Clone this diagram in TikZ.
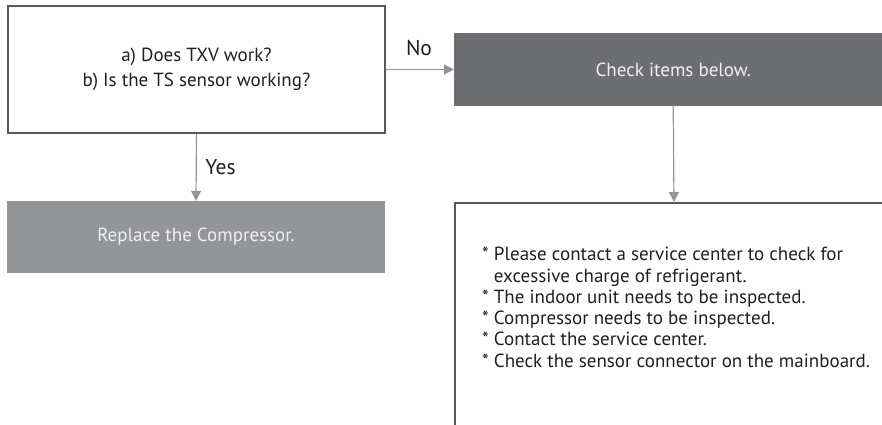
\documentclass[tikz,border=0pt]{standalone}
\usepackage{fontspec}
\setmainfont{PT Sans}
\usetikzlibrary{arrows.meta}
\definecolor{borderc}{HTML}{58595B}
\definecolor{linec}{HTML}{939598}
\definecolor{lightfill}{HTML}{939598}
\definecolor{darkfill}{HTML}{6D6E71}
\definecolor{txt}{HTML}{231F20}
\tikzset{
  qbox/.style={draw=borderc, line width=2pt, fill=white, minimum width=377pt, minimum height=127pt, inner sep=0pt, align=center, text=txt, font=\fontsize{19}{25}\selectfont},
  greybox/.style={fill=lightfill, minimum width=378pt, minimum height=72pt, inner sep=0pt, text=white!94!black, font=\fontsize{19}{22}\selectfont},
  darkbox/.style={fill=darkfill, minimum width=438pt, minimum height=73pt, inner sep=0pt, text=white!94!black, font=\fontsize{19}{22}\selectfont},
  listbox/.style={draw=borderc, line width=2pt, fill=white, minimum width=438pt, minimum height=260pt, inner sep=0pt},
  listtext/.style={align=left, inner sep=0pt, text=txt, font=\fontsize{19}{21.3}\selectfont},
  lbl/.style={inner sep=0pt, text=txt, font=\fontsize{21.5}{24}\selectfont},
  conn/.style={draw=linec, line width=1.2pt, -{Triangle[length=10pt,width=10pt]}}
}
\begin{document}
\begin{tikzpicture}[x=1pt,y=-1pt]
\useasboundingbox (0,0) rectangle (882,424);
\clip (0,0) rectangle (882,424);
\node[qbox] (q) at (196.5,69.5) {\raisebox{-2pt}{\parbox{300pt}{\centering a) Does TXV work?\\b) Is the TS sensor working?}}};
\node[greybox] (rep) at (196,237) {Replace the Compressor.};
\node[darkbox, anchor=north west] (chk) at (454,33) {Check items below.};
\node[listbox, anchor=north west] (items) at (454,202) {};
\node[listtext, anchor=north west] (itemtext) at (482,247) {* Please contact a service center to check for\\
\phantom{*} excessive charge of refrigerant.\\
* The indoor unit needs to be inspected.\\
* Compressor needs to be inspected.\\
* Contact the service center.\\
* Check the sensor connector on the mainboard.};
\draw[conn] (q.south) -- (rep.north);
\draw[conn] (q.east) -- (q.east -| chk.west);
\draw[conn] (chk.south) -- (items.north);
\node[lbl] (yes) at (220.5,167.5) {Yes};
\node[lbl] (no) at (419,48) {No};
\end{tikzpicture}
\end{document}
